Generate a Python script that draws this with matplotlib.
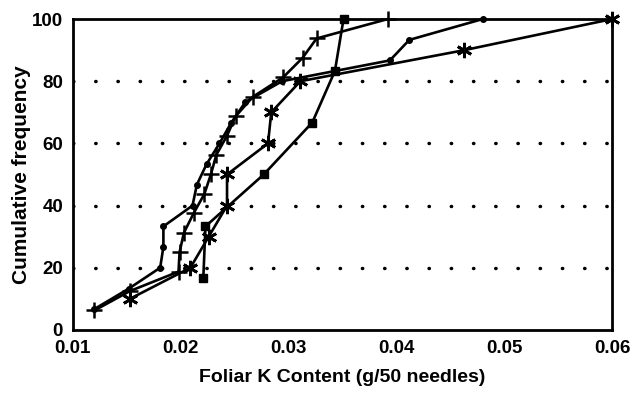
import matplotlib.pyplot as plt
import numpy as np

# cumulative frequency (%) vs foliar K content (g/50 needles)
sq_k = [0.0221, 0.0223, 0.0277, 0.0322, 0.0343, 0.0351]
sq_f = [16.7, 33.3, 50.0, 66.7, 83.3, 100.0]

star_k = [0.0153, 0.0209, 0.0226, 0.0243, 0.0243, 0.0281, 0.0284, 0.0311, 0.0463, 0.0600]
star_f = [10, 20, 30, 40, 50, 60, 70, 80, 90, 100]

plus_k = [0.0120, 0.0153, 0.0198, 0.0199, 0.0203, 0.0212, 0.0222, 0.0228,
          0.0233, 0.0243, 0.0251, 0.0267, 0.0295, 0.0313, 0.0326, 0.0392]
plus_f = [6.25, 12.5, 18.75, 25.0, 31.25, 37.5, 43.75, 50.0,
          56.25, 62.5, 68.75, 75.0, 81.25, 87.5, 93.75, 100.0]

dot_k = [0.0120, 0.0152, 0.0181, 0.0184, 0.0184, 0.0211, 0.0215, 0.0224,
         0.0236, 0.0247, 0.0260, 0.0294, 0.0394, 0.0412, 0.0480]
dot_f = [6.7, 13.3, 20.0, 26.7, 33.3, 40.0, 46.7, 53.3,
         60.0, 66.7, 73.3, 80.0, 86.7, 93.3, 100.0]

xticks = [0.01, 0.02, 0.03, 0.04, 0.05, 0.06]
xtick_labels = ['0.01', '0.02', '0.03', '0.04', '0.05', '0.06']
yticks = [0, 20, 40, 60, 80, 100]

plt.rcParams['font.family'] = ['Liberation Sans', 'DejaVu Sans']
plt.rcParams['font.weight'] = 'bold'
plt.rcParams['axes.labelweight'] = 'bold'

fig = plt.figure(figsize=(6.33, 3.97), dpi=100)
ax = fig.add_axes([0.115, 0.169, 0.852, 0.783])

for yv in yticks[1:-1]:
    ax.axhline(yv, color='black', lw=2.5, linestyle=(0, (0.1, 6.3)),
               dash_capstyle='round', zorder=1)

kw = dict(color='black', lw=1.9, zorder=3, clip_on=False)
ax.plot(sq_k, sq_f, marker='s', ms=6, **kw)
ax.plot(star_k, star_f, marker=(6, 2, 0), ms=11, mew=2, **kw)
ax.plot(plus_k, plus_f, marker='+', ms=11, mew=1.8, **kw)
ax.plot(dot_k, dot_f, marker='o', ms=4, **kw)

ax.set_xlim(0.01, 0.06)
ax.set_ylim(0, 100)
ax.set_xticks(xticks)
ax.set_xticklabels(xtick_labels)
ax.set_yticks(yticks)
ax.tick_params(length=0, labelsize=13.5)
ax.tick_params(axis='x', pad=7)
ax.tick_params(axis='y', pad=7)
for s in ax.spines.values():
    s.set_linewidth(2)

ax.set_xlabel('Foliar K Content (g/50 needles)', fontsize=14, labelpad=9)
ax.set_ylabel('Cumulative frequency', fontsize=15, labelpad=1)

fig.savefig('out.png', dpi=100)
